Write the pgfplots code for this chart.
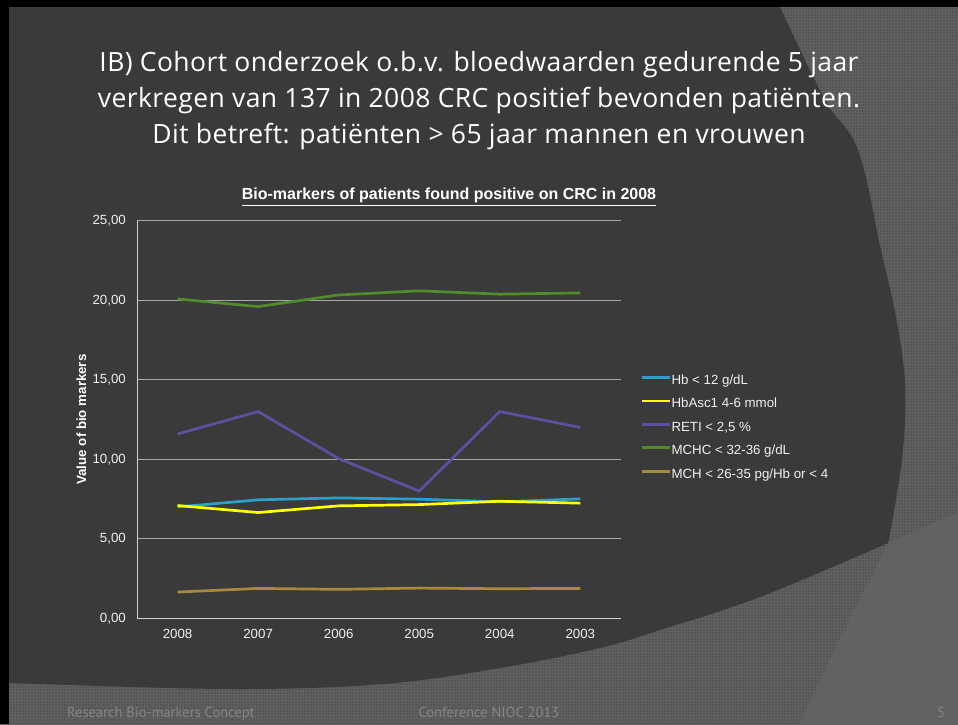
\documentclass[border=0pt]{standalone}
\usepackage{pgfplots}
\pgfplotsset{compat=1.18}
\usepackage{fontspec}
\setmainfont{Liberation Sans}
\newfontfamily\titlefont[LetterSpace=1.5]{Open Sans}
\newfontfamily\footfont{PT Sans}
\usetikzlibrary{patterns}

\definecolor{bgdark}{HTML}{3A3A3A}
\definecolor{bgtex}{HTML}{555555}
\definecolor{bgtexline}{HTML}{616161}
\definecolor{bglight}{HTML}{626262}
\definecolor{gridc}{HTML}{A8A8A8}
\definecolor{axisc}{HTML}{D0D0D0}
\definecolor{footc}{HTML}{858585}
\definecolor{txt}{HTML}{F0F0F0}
\definecolor{cHb}{HTML}{2AA1C9}
\definecolor{cHbA}{HTML}{FFFF00}
\definecolor{cRETI}{HTML}{5F4FA0}
\definecolor{cMCHC}{HTML}{508C2A}
\definecolor{cMCH}{HTML}{A88A3A}

\begin{document}
\begin{tikzpicture}
\useasboundingbox (0pt,0pt) rectangle (958pt,724pt);
\begin{scope}[x=1pt,y=1pt]
\clip (0,0) rectangle (958,724);
% textured background
\fill[bgtex] (0,0) rectangle (958,724);
\fill[pattern=grid, pattern color=bgtexline] (0,0) rectangle (958,724);
% lighter lower-right region
\fill[bglight] (800,0) .. controls (835,80) and (868,140) .. (888,181)
  .. controls (915,193) and (940,204) .. (958,211) -- (958,0) -- cycle;
% dark main region
\fill[bgdark] (0,724) -- (780,724)
  -- plot[smooth, tension=0.6] coordinates {(780,717) (825,624) (858,574) (881,474) (896,407) (905,341) (903,274) (893,207) (888,181)}
  -- plot[smooth, tension=0.6] coordinates {(888,181) (760,127) (660,94) (600,76) (500,56) (383,40) (230,35) (10,41) (0,42)}
  -- cycle;
% black frame
\fill[black] (0,717) rectangle (958,724);
\fill[black] (0,0) rectangle (9,724);
% slide title
\begin{scope}[every node/.style={text=white, inner sep=0pt, anchor=base, font=\titlefont\fontsize{26.5}{30}\selectfont}]
\node at (479,652) {IB) Cohort onderzoek o.b.v. bloedwaarden gedurende 5 jaar};
\node at (479,616) {verkregen van 137 in 2008 CRC positief bevonden patiënten.};
\node at (479,580) {Dit betreft: patiënten > 65 jaar mannen en vrouwen};
\end{scope}
% chart title
\node[text=white, inner sep=0pt, anchor=base, font=\bfseries\fontsize{16}{19}\selectfont] at (449,524) {\underline{Bio-markers of patients found positive on CRC in 2008}};
% footer
\begin{scope}[every node/.style={text=footc, inner sep=0pt, anchor=base, font=\footfont\fontsize{14.5}{17}\selectfont}]
\node[anchor=base west] at (67,6.5) {Research Bio-markers Concept};
\node at (489,6.5) {Conference NIOC 2013};
\node at (941,6.5) {5};
\end{scope}
\end{scope}

\begin{axis}[
  at={(137.3pt,105.7pt)}, anchor=south west,
  scale only axis, width=483.3pt, height=397.6pt,
  xmin=-0.5, xmax=5.5, ymin=0, ymax=25,
  xtick={0,1,2,3,4,5},
  xticklabels={2008,2007,2006,2005,2004,2003},
  ytick={0,5,10,15,20,25},
  axis lines*=left,
  ymajorgrids,
  major grid style={draw=gridc, line width=1.2pt},
  axis line style={draw=axisc, line width=1.2pt},
  major tick length=0pt,
  tick label style={font=\fontsize{13.3}{16}\selectfont, text=txt, inner sep=0pt},
  yticklabel style={anchor=east, xshift=-11.3pt,
    /pgf/number format/fixed, /pgf/number format/fixed zerofill,
    /pgf/number format/precision=2, /pgf/number format/use comma},
  /pgf/number format/assume math mode=true,
  xticklabel style={anchor=center, yshift=-15.7pt},
  ylabel={\bfseries Value of bio markers},
  every axis y label/.style={at={(axis description cs:-0.1155,0.5)}, rotate=90, anchor=center, text=white, font=\fontsize{13.3}{16}\selectfont},
  legend style={at={(1,0.479)}, anchor=west, xshift=20pt, draw=none, fill=none,
    font=\fontsize{13.3}{16}\selectfont, text=txt, inner sep=0pt, row sep=11.1pt,
    nodes={inner sep=0pt, text height=9.5pt, text depth=2.8pt}},
  legend cell align=left,
  legend image code/.code={\draw[#1] (0pt,3.5pt) -- (28pt,3.5pt);},
]
\addplot[no markers, line width=2.7pt, color=cHb] coordinates {(0,7.00) (1,7.45) (2,7.57) (3,7.49) (4,7.32) (5,7.51)};
\addlegendentry{Hb < 12 g/dL}
\addplot[no markers, line width=2.7pt, color=cHbA] coordinates {(0,7.09) (1,6.65) (2,7.07) (3,7.15) (4,7.36) (5,7.24)};
\addlegendentry{HbAsc1 4-6 mmol}
\addplot[no markers, line width=2.7pt, color=cRETI] coordinates {(0,11.59) (1,13.00) (2,10.04) (3,8.00) (4,13.00) (5,12.00)};
\addlegendentry{RETI < 2,5 \%}
\addplot[no markers, line width=2.7pt, color=cMCHC] coordinates {(0,20.08) (1,19.60) (2,20.33) (3,20.59) (4,20.38) (5,20.46)};
\addlegendentry{MCHC < 32-36 g/dL}
\addplot[no markers, line width=2.7pt, color=cMCH] coordinates {(0,1.65) (1,1.88) (2,1.82) (3,1.90) (4,1.86) (5,1.88)};
\addlegendentry{MCH < 26-35 pg/Hb or < 4}
\end{axis}
\end{tikzpicture}
\end{document}
